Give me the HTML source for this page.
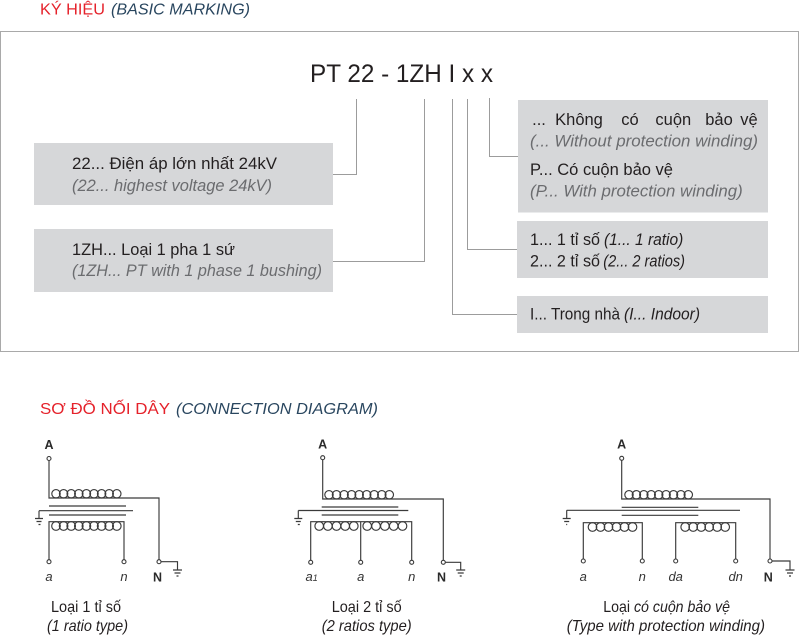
<!DOCTYPE html>
<html>
<head>
<meta charset="utf-8">
<style>
html,body{margin:0;padding:0;background:#fff;}
svg{display:block;}
text{font-family:"Liberation Sans","Noto Sans CJK SC",sans-serif;}
</style>
</head>
<body>
<svg width="800" height="636" viewBox="0 0 800 636" xmlns="http://www.w3.org/2000/svg">
<!-- Title 1 -->
<text x="40" y="14.5" font-size="16" fill="#e5222b" textLength="65" lengthAdjust="spacingAndGlyphs">KÝ HIỆU</text>
<text x="111" y="14.5" font-size="16" font-style="italic" fill="#29465f" textLength="139" lengthAdjust="spacingAndGlyphs">(BASIC MARKING)</text>

<!-- Frame -->
<rect x="0.5" y="31.5" width="798" height="320" fill="none" stroke="#a9a9a9" stroke-width="1"/>

<!-- PT code -->
<text x="310" y="82" font-size="25" fill="#231f20" textLength="183" lengthAdjust="spacingAndGlyphs">PT 22 - 1ZH I x x</text>

<!-- Boxes -->
<g fill="#d6d7d9">
<rect x="34" y="143" width="299" height="62"/>
<rect x="34" y="229" width="299" height="63"/>
<rect x="518" y="100" width="250" height="112.5"/>
<rect x="517" y="221" width="251" height="57"/>
<rect x="517" y="296" width="251" height="37"/>
</g>

<!-- Connectors -->
<g fill="none" stroke="#9c9c9c" stroke-width="1">
<path d="M356.5 99 V174.5 H333"/>
<path d="M424.5 99 V261.5 H333"/>
<path d="M452.5 99 V314.5 H517"/>
<path d="M467.5 99 V249.5 H517"/>
<path d="M489.5 98 V156.5 H518"/>
</g>

<!-- Left box texts -->
<g font-size="17" fill="#231f20">
<text x="72" y="169" textLength="205" lengthAdjust="spacingAndGlyphs">22... Điện áp lớn nhất 24kV</text>
<text x="72" y="255" textLength="163" lengthAdjust="spacingAndGlyphs">1ZH... Loại 1 pha 1 sứ</text>
</g>
<g font-size="17" fill="#6b6c6f" font-style="italic">
<text x="72" y="191" textLength="200" lengthAdjust="spacingAndGlyphs">(22... highest voltage 24kV)</text>
<text x="72" y="276" textLength="250" lengthAdjust="spacingAndGlyphs">(1ZH... PT with 1 phase 1 bushing)</text>
</g>

<!-- Right box 1 -->
<g font-size="16.5" fill="#231f20" text-anchor="middle">
<text x="539" y="125">...</text>
<text x="579" y="125">Không</text>
<text x="630" y="125">có</text>
<text x="673.3" y="125">cuộn</text>
<text x="719" y="125">bảo</text>
<text x="749" y="125">vệ</text>
</g>
<g font-size="17" fill="#231f20">
<text x="530" y="175" textLength="143" lengthAdjust="spacingAndGlyphs">P... Có cuộn bảo vệ</text>
</g>
<g font-size="17" fill="#6b6c6f" font-style="italic">
<text x="530" y="146.7" textLength="228" lengthAdjust="spacingAndGlyphs">(... Without protection winding)</text>
<text x="530" y="196.7" textLength="212.7" lengthAdjust="spacingAndGlyphs">(P... With protection winding)</text>
</g>

<!-- Right box 2 & 3 -->
<g font-size="17" fill="#231f20">
<text x="530" y="245" textLength="70" lengthAdjust="spacingAndGlyphs">1... 1 tỉ số</text>
<text x="604" y="245" textLength="79.3" lengthAdjust="spacingAndGlyphs" font-style="italic">(1... 1 ratio)</text>
<text x="530" y="266.7" textLength="70" lengthAdjust="spacingAndGlyphs">2... 2 tỉ số</text>
<text x="603.3" y="266.7" textLength="81.7" lengthAdjust="spacingAndGlyphs" font-style="italic">(2... 2 ratios)</text>
<text x="530" y="319.3" textLength="90" lengthAdjust="spacingAndGlyphs">I... Trong nhà</text>
<text x="624" y="319.3" textLength="76" lengthAdjust="spacingAndGlyphs" font-style="italic">(I... Indoor)</text>
</g>

<!-- Title 2 -->
<text x="40" y="414" font-size="16" fill="#e5222b" textLength="130" lengthAdjust="spacingAndGlyphs">SƠ ĐỒ NỐI DÂY</text>
<text x="176" y="414" font-size="16" font-style="italic" fill="#29465f" textLength="202" lengthAdjust="spacingAndGlyphs">(CONNECTION DIAGRAM)</text>

<!-- ============ Diagram 1 ============ -->
<g fill="none" stroke="#3a3a3a" stroke-width="1.15">
<path d="M49 460.5 V498 H159 V559.7"/>
<circle cx="56" cy="493.8" r="4.2"/><circle cx="63.6" cy="493.8" r="4.2"/><circle cx="71.2" cy="493.8" r="4.2"/><circle cx="78.8" cy="493.8" r="4.2"/><circle cx="86.4" cy="493.8" r="4.2"/><circle cx="94" cy="493.8" r="4.2"/><circle cx="101.6" cy="493.8" r="4.2"/><circle cx="109.2" cy="493.8" r="4.2"/><circle cx="116.8" cy="493.8" r="4.2"/>
<path d="M49 506 H126 M39 510.7 H133 M49 515 H126"/>
<path d="M39 510.7 V518.5 M35 518.5 H43 M36.5 521.5 H41.5 M38.5 524.5 H40.5"/>
<path d="M49 559.7 V521.7 H124 V559.7"/>
<circle cx="56" cy="526" r="4.3"/><circle cx="63.6" cy="526" r="4.3"/><circle cx="71.2" cy="526" r="4.3"/><circle cx="78.8" cy="526" r="4.3"/><circle cx="86.4" cy="526" r="4.3"/><circle cx="94" cy="526" r="4.3"/><circle cx="101.6" cy="526" r="4.3"/><circle cx="109.2" cy="526" r="4.3"/><circle cx="116.8" cy="526" r="4.3"/>
<path d="M161 561.7 H177.5 V570 M173 570 H182 M174.5 573 H180.5 M176.5 576 H178.5"/>
</g>
<g fill="#fff" stroke="#3a3a3a" stroke-width="1.1">
<circle cx="49" cy="458.5" r="2"/>
<circle cx="49" cy="561.7" r="2"/><circle cx="124" cy="561.7" r="2"/><circle cx="159" cy="561.7" r="2"/>
</g>
<text x="49" y="449" font-size="12.5" font-weight="bold" fill="#2a2a2a" text-anchor="middle">A</text>
<text x="49" y="581" font-size="13" font-style="italic" fill="#333" text-anchor="middle">a</text>
<text x="124" y="581" font-size="13" font-style="italic" fill="#333" text-anchor="middle">n</text>
<text x="157.5" y="581.5" font-size="12.5" font-weight="bold" fill="#2a2a2a" text-anchor="middle">N</text>

<!-- ============ Diagram 2 ============ -->
<g fill="none" stroke="#3a3a3a" stroke-width="1.15">
<path d="M322.7 460 V499 H443.3 V560.3"/>
<circle cx="329" cy="494.8" r="4.2"/><circle cx="336.5" cy="494.8" r="4.2"/><circle cx="344.1" cy="494.8" r="4.2"/><circle cx="351.6" cy="494.8" r="4.2"/><circle cx="359.2" cy="494.8" r="4.2"/><circle cx="366.7" cy="494.8" r="4.2"/><circle cx="374.2" cy="494.8" r="4.2"/><circle cx="381.8" cy="494.8" r="4.2"/><circle cx="389.3" cy="494.8" r="4.2"/>
<path d="M321.7 507 H398.3 M298.3 510.5 H408.3 M321.7 515 H398.3"/>
<path d="M298.3 510.5 V518.5 M294.3 518.5 H302.3 M295.8 521.5 H300.8 M297.8 524.5 H299.8"/>
<path d="M310.7 560.3 V521.7 H411.7 V560.3 M360.7 521.7 V560.3"/>
<circle cx="319.2" cy="526" r="4.3"/><circle cx="327.9" cy="526" r="4.3"/><circle cx="336.5" cy="526" r="4.3"/><circle cx="345.2" cy="526" r="4.3"/><circle cx="353.8" cy="526" r="4.3"/>
<circle cx="367.2" cy="526" r="4.3"/><circle cx="376" cy="526" r="4.3"/><circle cx="384.9" cy="526" r="4.3"/><circle cx="393.7" cy="526" r="4.3"/><circle cx="402.5" cy="526" r="4.3"/>
<path d="M445.3 562.3 H460.7 V570 M456.2 570 H465.2 M457.7 573 H463.7 M459.7 576 H461.7"/>
</g>
<g fill="#fff" stroke="#3a3a3a" stroke-width="1.1">
<circle cx="322.7" cy="457.7" r="2"/>
<circle cx="310.7" cy="562.3" r="2"/><circle cx="360.7" cy="562.3" r="2"/><circle cx="411.7" cy="562.3" r="2"/><circle cx="443.3" cy="562.3" r="2"/>
</g>
<text x="322.7" y="448.5" font-size="12.5" font-weight="bold" fill="#2a2a2a" text-anchor="middle">A</text>
<text x="305.5" y="581" font-size="13" font-style="italic" fill="#333">a<tspan font-size="9">1</tspan></text>
<text x="360.7" y="581" font-size="13" font-style="italic" fill="#333" text-anchor="middle">a</text>
<text x="411.7" y="581" font-size="13" font-style="italic" fill="#333" text-anchor="middle">n</text>
<text x="441.5" y="581.5" font-size="12.5" font-weight="bold" fill="#2a2a2a" text-anchor="middle">N</text>

<!-- ============ Diagram 3 ============ -->
<g fill="none" stroke="#3a3a3a" stroke-width="1.15">
<path d="M621.7 460.3 V499 H770 V559"/>
<circle cx="629" cy="494.8" r="4.2"/><circle cx="636.4" cy="494.8" r="4.2"/><circle cx="643.8" cy="494.8" r="4.2"/><circle cx="651.2" cy="494.8" r="4.2"/><circle cx="658.7" cy="494.8" r="4.2"/><circle cx="666.1" cy="494.8" r="4.2"/><circle cx="673.5" cy="494.8" r="4.2"/><circle cx="680.9" cy="494.8" r="4.2"/><circle cx="688.3" cy="494.8" r="4.2"/>
<path d="M621.7 507.3 H698.3 M566.7 510.3 H740 M621.7 515.3 H698.3"/>
<path d="M566.7 510.3 V518.5 M562.7 518.5 H570.7 M564.2 521.5 H569.2 M566.2 524.5 H567.2"/>
<path d="M583.3 559 V522.7 H642.3 V559"/>
<circle cx="592.5" cy="527" r="4.3"/><circle cx="600.5" cy="527" r="4.3"/><circle cx="608.5" cy="527" r="4.3"/><circle cx="616.5" cy="527" r="4.3"/><circle cx="624.5" cy="527" r="4.3"/><circle cx="632.5" cy="527" r="4.3"/>
<path d="M675.7 559 V522.7 H735.7 V559"/>
<circle cx="685.2" cy="527" r="4.3"/><circle cx="693.2" cy="527" r="4.3"/><circle cx="701.2" cy="527" r="4.3"/><circle cx="709.2" cy="527" r="4.3"/><circle cx="717.2" cy="527" r="4.3"/><circle cx="725.2" cy="527" r="4.3"/>
<path d="M772 561 H790 V570 M785.5 570 H794.5 M787 573 H793 M789 576 H791"/>
</g>
<g fill="#fff" stroke="#3a3a3a" stroke-width="1.1">
<circle cx="621.7" cy="458.3" r="2"/>
<circle cx="583.3" cy="561" r="2"/><circle cx="642.3" cy="561" r="2"/><circle cx="675.7" cy="561" r="2"/><circle cx="735.7" cy="561" r="2"/><circle cx="770" cy="561" r="2"/>
</g>
<text x="621.7" y="448.5" font-size="12.5" font-weight="bold" fill="#2a2a2a" text-anchor="middle">A</text>
<text x="583.3" y="581" font-size="13" font-style="italic" fill="#333" text-anchor="middle">a</text>
<text x="642.3" y="581" font-size="13" font-style="italic" fill="#333" text-anchor="middle">n</text>
<text x="675.7" y="581" font-size="13" font-style="italic" fill="#333" text-anchor="middle">da</text>
<text x="735.7" y="581" font-size="13" font-style="italic" fill="#333" text-anchor="middle">dn</text>
<text x="768.3" y="581.5" font-size="12.5" font-weight="bold" fill="#2a2a2a" text-anchor="middle">N</text>

<!-- Captions -->
<g font-size="16" fill="#231f20">
<text x="51" y="612" textLength="70" lengthAdjust="spacingAndGlyphs">Loại 1 tỉ số</text>
<text x="47" y="631" textLength="81" lengthAdjust="spacingAndGlyphs" font-style="italic">(1 ratio type)</text>
<text x="331.7" y="612" textLength="70" lengthAdjust="spacingAndGlyphs">Loại 2 tỉ số</text>
<text x="321.7" y="631" textLength="90" lengthAdjust="spacingAndGlyphs" font-style="italic">(2 ratios type)</text>
<text x="603.3" y="612" textLength="126.7" lengthAdjust="spacingAndGlyphs">Loại <tspan font-style="italic">có cuộn bảo vệ</tspan></text>
<text x="566.7" y="631" textLength="198.3" lengthAdjust="spacingAndGlyphs" font-style="italic">(Type with protection winding)</text>
</g>
</svg>
</body>
</html>
